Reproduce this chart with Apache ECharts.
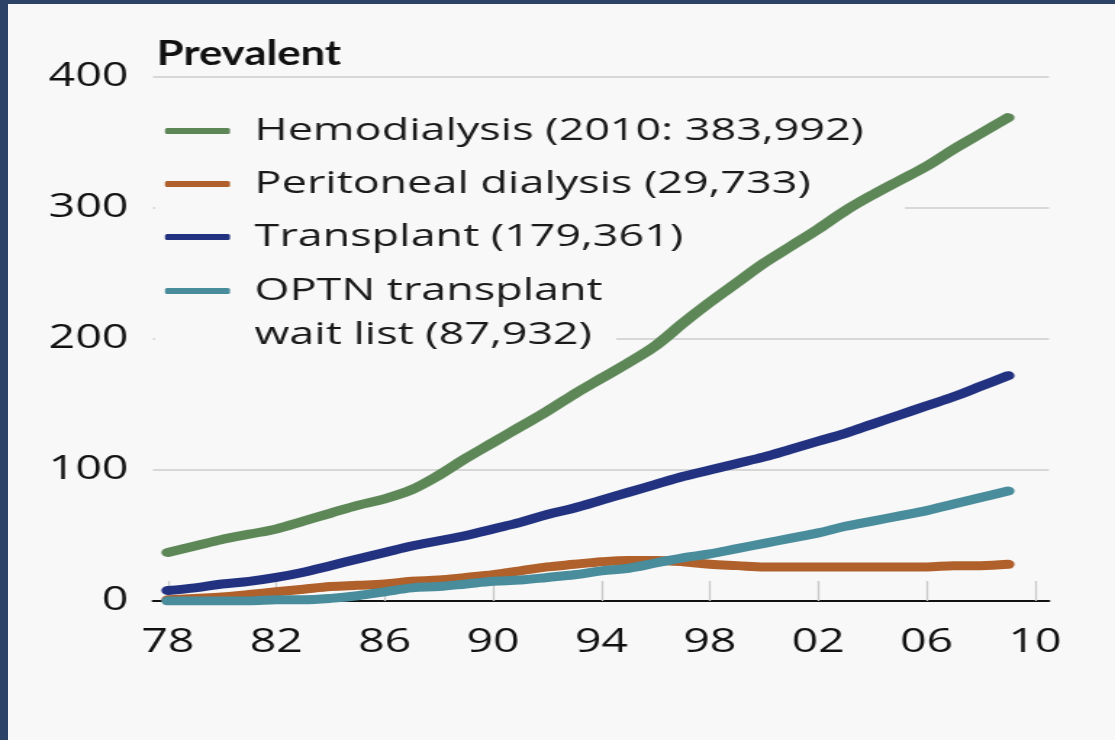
<!DOCTYPE html>
<html>
<head>
<meta charset="utf-8">
<script src="https://cdn.jsdelivr.net/npm/echarts@6/dist/echarts.min.js"></script>
<style>
  html, body { margin: 0; padding: 0; background: #2c4266; overflow: hidden; }
  #panel { position: absolute; left: 8px; top: 4px; width: 1107px; height: 736px; background: #f8f8f8; }
  /* the source picture is stretched sideways, so the chart is drawn narrow and scaled */
  #chart { position: absolute; left: 0; top: 0; width: 769px; height: 740px;
           transform: scaleX(1.45); transform-origin: 0 0; }
</style>
</head>
<body>
<div id="panel"></div>
<div id="chart"></div>
<script>
var years = [1978, 1979, 1980, 1981, 1982, 1983, 1984, 1985, 1986, 1987, 1988,
    1989, 1990, 1991, 1992, 1993, 1994, 1995, 1996, 1997, 1998, 1999,
    2000, 2001, 2002, 2003, 2004, 2005, 2006, 2007, 2008, 2009];

// patients, thousands
var hemodialysis = [37, 42, 47, 51, 55, 61, 67, 73, 78, 85, 96,
    109, 121, 133, 145, 158, 170, 182, 195, 212, 228, 243,
    258, 271, 284, 298, 310, 321, 332, 345, 357, 369];
var peritoneal = [1, 2, 3, 5, 7, 9, 11, 12, 13, 15, 16,
    18, 20, 23, 26, 28, 30, 31, 31, 30, 28, 27,
    26, 26, 26, 26, 26, 26, 26, 27, 27, 28];
var transplant = [8, 10, 13, 15, 18, 22, 27, 32, 37, 42, 46,
    50, 55, 60, 66, 71, 77, 83, 89, 95, 100, 105,
    110, 116, 122, 128, 135, 142, 149, 156, 164, 172];
var waitList = [0, 0, 0, 0, 1, 1, 2, 4, 7, 10, 11,
    13, 15, 16, 18, 20, 23, 25, 29, 33, 36, 40,
    44, 48, 52, 57, 61, 65, 69, 74, 79, 84];

var xTicks = [1978, 1982, 1986, 1990, 1994, 1998, 2002, 2006, 2010];
var seriesNames = ['Hemodialysis (2010: 383,992)', 'Peritoneal dialysis (29,733)',
    'Transplant (179,361)', 'OPTN transplant'];
var optnSecondLine = 'wait list (87,932)';
var colors = ['#5e8758', '#b0602a', '#223280', '#498c9b'];

var BG = '#f8f8f8';
var FONT = '"Open Sans", "DejaVu Sans", sans-serif';

function pairs(vals) {
    return years.map((y, i) => [y, vals[i]]);
}

function mkSeries(name, vals, color) {
    return {
        name: name,
        type: 'line',
        data: pairs(vals),
        smooth: 0.35,
        showSymbol: false,
        symbol: 'none',
        color: color,
        lineStyle: {width: 9, color: color, cap: 'round', join: 'round'}
    };
}

var chart = echarts.init(document.getElementById('chart'), null, {renderer: 'canvas'});

var legendText = {fontFamily: FONT, fontSize: 31, color: '#1a1a1a',
    padding: [0, 0, 0, 12], backgroundColor: 'transparent'};

var option = {
    animation: false,
    backgroundColor: 'transparent',
    textStyle: {fontFamily: FONT},
    grid: {left: 105.5, right: 45.6, top: 77, bottom: 139},
    legend: [{
        data: seriesNames.slice(0, 3),
        orient: 'vertical',
        left: 113.8,
        top: 114,
        padding: 0,
        itemGap: 19,
        itemWidth: 44.8,
        itemHeight: 6,
        icon: 'roundRect',
        selectedMode: false,
        textStyle: Object.assign({lineHeight: 34}, legendText)
    }, {
        // blank first line keeps the icon level with "OPTN transplant"
        data: [seriesNames[3]],
        orient: 'vertical',
        left: 113.8,
        top: 225,
        padding: 0,
        itemWidth: 44.8,
        itemHeight: 6,
        icon: 'roundRect',
        selectedMode: false,
        formatter: name => ' \n' + name + '\n' + optnSecondLine,
        textStyle: Object.assign({lineHeight: 44}, legendText)
    }],
    xAxis: {
        type: 'value',
        min: 1977.45,
        max: 2010.51,
        splitLine: {show: false},
        axisLine: {onZero: false, lineStyle: {color: '#111', width: 2}},
        axisTick: {
            inside: true, length: 20, customValues: xTicks,
            lineStyle: {color: '#c8c8c8', width: 1.3}
        },
        axisLabel: {
            customValues: xTicks,
            margin: 26,
            fontSize: 32,
            color: '#111',
            fontFamily: FONT,
            formatter: v => String(v % 100).padStart(2, '0')
        }
    },
    yAxis: {
        type: 'value',
        min: 0,
        max: 400,
        interval: 100,
        axisLine: {show: false},
        axisTick: {show: false},
        splitLine: {lineStyle: {color: '#cccccc', width: 1.5}},
        axisLabel: {margin: 17, fontSize: 32, color: '#111', fontFamily: FONT}
    },
    graphic: [
        {
            type: 'text', left: 108, top: 36, scaleX: 0.86, z: 3,
            style: {text: 'Prevalent', fontFamily: 'Lato, ' + FONT, fontSize: 35,
                fontWeight: 'bold', fill: '#111'}
        },
        // legend area hides the gridlines behind it
        {type: 'rect', z: 1, shape: {x: 107, y: 200, width: 517, height: 16}, style: {fill: BG}},
        {type: 'rect', z: 1, shape: {x: 107, y: 331, width: 318, height: 16}, style: {fill: BG}}
    ],
    series: [
        mkSeries(seriesNames[0], hemodialysis, colors[0]),
        mkSeries(seriesNames[1], peritoneal, colors[1]),
        mkSeries(seriesNames[2], transplant, colors[2]),
        mkSeries(seriesNames[3], waitList, colors[3])
    ]
};

chart.setOption(option);
</script>
</body>
</html>
